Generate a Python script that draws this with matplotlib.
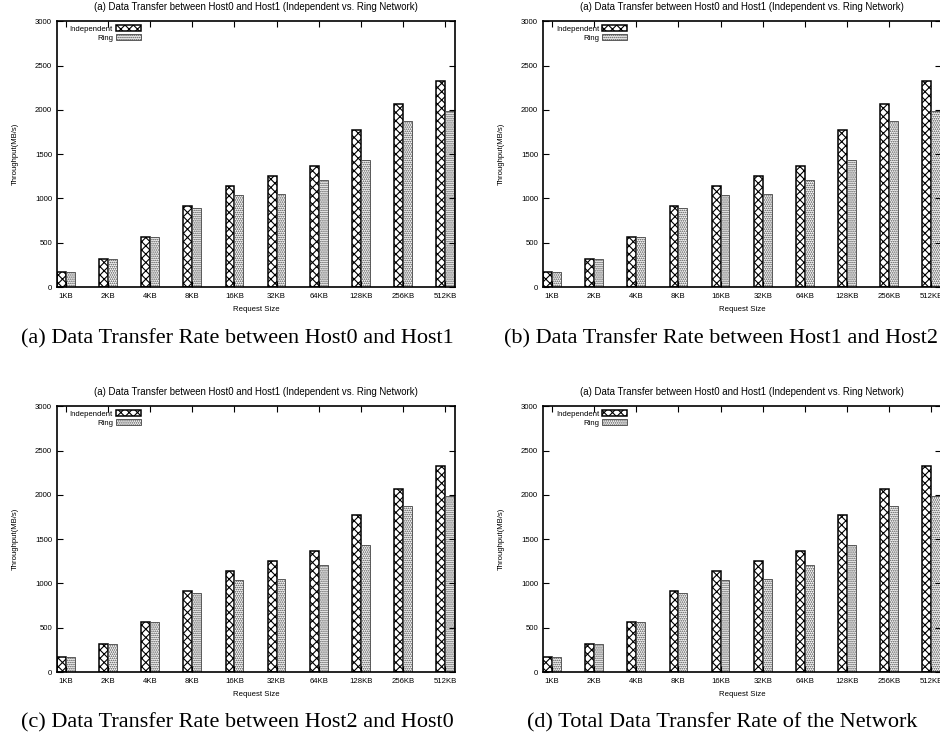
import matplotlib
matplotlib.use('Agg')
import matplotlib.pyplot as plt
import numpy as np

# request sizes and measured throughput (MB/s)
sizes = ['1KB', '2KB', '4KB', '8KB', '16KB', '32KB', '64KB', '128KB', '256KB', '512KB']
independent = [170, 320, 565, 910, 1145, 1255, 1365, 1770, 2065, 2325]
ring = [170, 320, 560, 895, 1040, 1050, 1205, 1435, 1875, 1990]
yticks = [0, 500, 1000, 1500, 2000, 2500, 3000]

chart_title = '(a) Data Transfer between Host0 and Host1 (Independent vs. Ring Network)'
captions = ['(a) Data Transfer Rate between Host0 and Host1',
            '(b) Data Transfer Rate between Host1 and Host2',
            '(c) Data Transfer Rate between Host2 and Host0',
            '(d) Total Data Transfer Rate of the Network']

plt.rcParams['font.family'] = ['Liberation Sans', 'DejaVu Sans']
plt.rcParams['hatch.linewidth'] = 0.8

fig = plt.figure(figsize=(9.4, 7.38), dpi=100)

# axes boxes (left, bottom) in figure fraction; right column runs off the page
boxes = [(0.0606, 0.6111), (0.5777, 0.6111), (0.0606, 0.0894), (0.5777, 0.0894)]
cap_pos = [(0.253, 0.541), (0.767, 0.541), (0.253, 0.020), (0.768, 0.020)]
w = 0.21
x = np.arange(len(sizes))

for i in range(4):
    ax = fig.add_axes([boxes[i][0], boxes[i][1], 0.4234, 0.36])
    ax.bar(x - w / 2, independent, w, color='white', edgecolor='black',
           hatch='xxxx', linewidth=1.1, label='Independent')
    ax.bar(x + w / 2, ring, w, color='white', edgecolor='#444444',
           hatch='........', linewidth=0.6, label='Ring')
    ax.set_xlim(-0.21, 9.23)
    ax.set_ylim(0, 3000)
    ax.set_xticks(x)
    ax.set_xticklabels(sizes)
    ax.set_yticks(yticks)
    ax.tick_params(direction='in', length=4, width=0.8, labelsize=5.6,
                   top=True, right=True, color='black')
    ax.tick_params(axis='x', pad=4)
    ax.tick_params(axis='y', pad=3.5)
    for s in ax.spines.values():
        s.set_linewidth(1.2)
    ax.set_title(chart_title, fontsize=6.9, pad=8)
    ax.set_xlabel('Request Size', fontsize=5.6)
    ax.set_ylabel('Throughput(MB/s)', fontsize=5.6)
    ax.xaxis.set_label_coords(0.5, -0.072)
    ax.yaxis.set_label_coords(-0.095, 0.5)
    ax.legend(loc='upper right', bbox_to_anchor=(0.211, 0.985), frameon=False,
              markerfirst=False, fontsize=5.6, handlelength=3.2, handleheight=0.8,
              handletextpad=0.4, labelspacing=0.15, borderpad=0, borderaxespad=0)
    fig.text(cap_pos[i][0], cap_pos[i][1], captions[i], ha='center', va='center',
             fontsize=16, family=['Liberation Serif', 'DejaVu Serif'])

fig.savefig('out.png', dpi=100)
